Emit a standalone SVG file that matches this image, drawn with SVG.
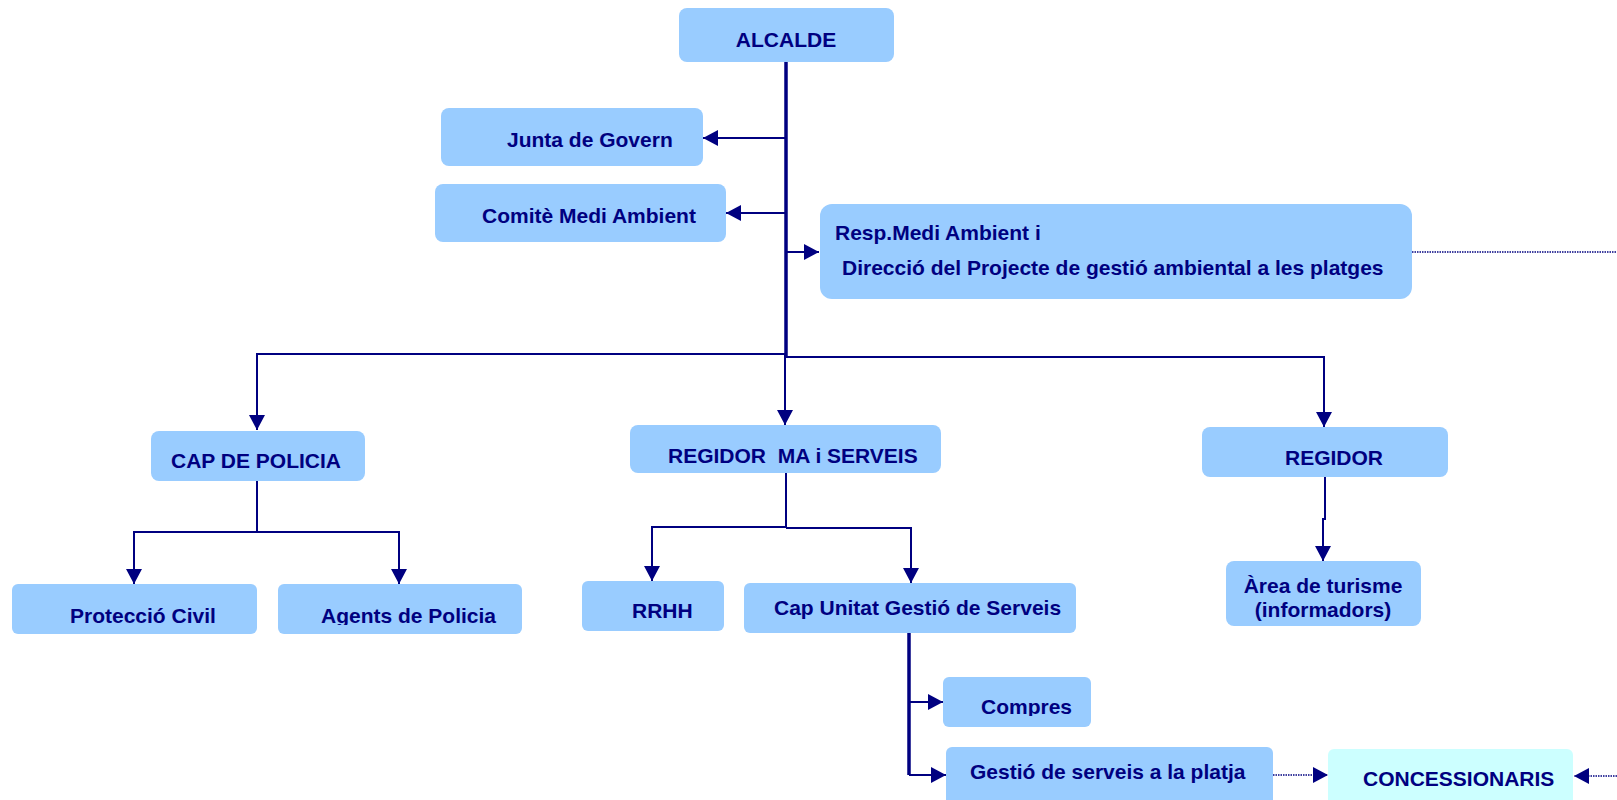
<svg xmlns="http://www.w3.org/2000/svg" width="1617" height="800" viewBox="0 0 1617 800">
<style>
.box{fill:#99CCFF;}
.box2{fill:#CCFFFF;}
.t{font-family:"Liberation Sans",Arial,sans-serif;font-weight:bold;font-size:21px;fill:#000080;white-space:pre;}
.c{fill:none;stroke:#000080;stroke-width:2;}
.thick{stroke-width:3.5;}
.dot{fill:none;stroke:#000080;stroke-width:1.5;stroke-dasharray:1.5 1;}
</style>
<defs>
<marker id="ah" markerUnits="userSpaceOnUse" markerWidth="16" markerHeight="16" refX="15" refY="8" orient="auto">
<path d="M0,0 L15,8 L0,16 z" fill="#000080"/>
</marker>
<clipPath id="clipAgents"><rect x="278" y="584" width="244" height="41"/></clipPath>
<clipPath id="clipCompres"><rect x="943" y="677" width="148" height="39"/></clipPath>
</defs>
<rect width="1617" height="800" fill="#fff"/>
<g id="connectors">
<line class="c thick" x1="786" y1="62" x2="786" y2="356"/>
<line class="c" x1="786" y1="138" x2="703" y2="138" marker-end="url(#ah)"/>
<line class="c" x1="786" y1="213" x2="726" y2="213" marker-end="url(#ah)"/>
<line class="c" x1="786" y1="252" x2="819" y2="252" marker-end="url(#ah)"/>
<polyline class="c" points="786,354 257,354 257,430" marker-end="url(#ah)"/>
<line class="c" x1="785" y1="354" x2="785" y2="425" marker-end="url(#ah)"/>
<polyline class="c" points="786,357 1324,357 1324,427" marker-end="url(#ah)"/>
<polyline class="c" points="257,481 257,532 134,532 134,584" marker-end="url(#ah)"/>
<polyline class="c" points="257,532 399,532 399,584" marker-end="url(#ah)"/>
<polyline class="c" points="786,473 786,527 652,527 652,581" marker-end="url(#ah)"/>
<polyline class="c" points="786,528 911,528 911,583" marker-end="url(#ah)"/>
<polyline class="c" points="1325,477 1325,519 1323,519 1323,561" marker-end="url(#ah)"/>
<line class="c thick" x1="909" y1="633" x2="909" y2="775"/>
<polyline class="c" points="909,702 943,702" marker-end="url(#ah)"/>
<polyline class="c" points="909,775 946,775" marker-end="url(#ah)"/>
<line class="dot" x1="1412" y1="252" x2="1617" y2="252"/>
<line class="dot" x1="1273" y1="775" x2="1328" y2="775" marker-end="url(#ah)"/>
<line class="dot" x1="1617" y1="776" x2="1574" y2="776" marker-end="url(#ah)"/>
</g>
<g id="n-alcalde"><rect class="box" x="679" y="8" width="215" height="54" rx="8"/><text class="t" x="786" y="47" text-anchor="middle">ALCALDE</text></g>
<g id="n-junta"><rect class="box" x="441" y="108" width="262" height="58" rx="8"/><text class="t" x="507" y="147">Junta de Govern</text></g>
<g id="n-comite"><rect class="box" x="435" y="184" width="291" height="58" rx="8"/><text class="t" x="482" y="223">Comitè Medi Ambient</text></g>
<g id="n-resp"><rect class="box" x="820" y="204" width="592" height="95" rx="12"/><text class="t" x="835" y="240">Resp.Medi Ambient i</text><text class="t" x="842" y="275">Direcció del Projecte de gestió ambiental a les platges</text></g>
<g id="n-cap-policia"><rect class="box" x="151" y="431" width="214" height="50" rx="8"/><text class="t" x="171" y="468">CAP DE POLICIA</text></g>
<g id="n-regidor-ma"><rect class="box" x="630" y="425" width="311" height="48" rx="8"/><text class="t" x="668" y="463">REGIDOR  MA i SERVEIS</text></g>
<g id="n-regidor"><rect class="box" x="1202" y="427" width="246" height="50" rx="8"/><text class="t" x="1285" y="465">REGIDOR</text></g>
<g id="n-proteccio"><rect class="box" x="12" y="584" width="245" height="50" rx="6"/><text class="t" x="70" y="623">Protecció Civil</text></g>
<g id="n-agents"><rect class="box" x="278" y="584" width="244" height="50" rx="6"/><text class="t" x="321" y="623" clip-path="url(#clipAgents)">Agents de Policia</text></g>
<g id="n-rrhh"><rect class="box" x="582" y="581" width="142" height="50" rx="6"/><text class="t" x="632" y="618">RRHH</text></g>
<g id="n-cap-unitat"><rect class="box" x="744" y="583" width="332" height="50" rx="6"/><text class="t" x="774" y="615">Cap Unitat Gestió de Serveis</text></g>
<g id="n-area"><rect class="box" x="1226" y="561" width="195" height="65" rx="8"/><text class="t" x="1323" y="593" text-anchor="middle">Àrea de turisme</text><text class="t" x="1323" y="617" text-anchor="middle">(informadors)</text></g>
<g id="n-compres"><rect class="box" x="943" y="677" width="148" height="50" rx="6"/><text class="t" x="981" y="714" clip-path="url(#clipCompres)">Compres</text></g>
<g id="n-gestio"><rect class="box" x="946" y="747" width="327" height="60" rx="6"/><text class="t" x="970" y="779">Gestió de serveis a la platja</text></g>
<g id="n-concessionaris"><rect class="box2" x="1328" y="749" width="245" height="58" rx="6"/><text class="t" x="1363" y="786">CONCESSIONARIS</text></g>
</svg>
